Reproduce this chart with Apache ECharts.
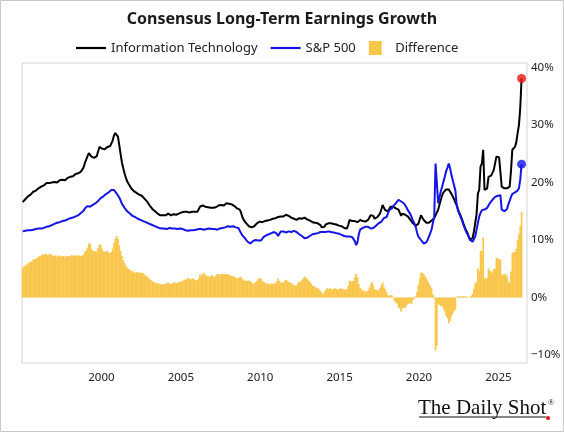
<!DOCTYPE html>
<html>
<head>
<meta charset="utf-8">
<script src="https://cdn.jsdelivr.net/npm/echarts@6/dist/echarts.min.js"></script>
<style>
  html, body { margin: 0; padding: 0; background: #fff; }
  #chart { width: 564px; height: 432px; }
</style>
</head>
<body>
<div id="chart"></div>
<script>
// monthly readings, Jan 1995 .. Jun 2026 (one row per year)
var startYear = 1995;

var itGrowth = [
  16.6,16.9,17.1,17.3,17.6,17.8,17.9,18.1,18.4,18.5,18.6,18.8,
  19.0,19.1,19.3,19.6,19.5,19.8,19.9,19.7,19.9,20.1,20.0,19.9,
  20.1,20.2,20.0,20.3,20.4,20.3,20.5,20.6,20.4,20.7,20.8,20.9,
  21.0,21.2,21.1,21.3,21.5,21.4,21.6,21.8,21.9,22.2,22.6,23.4,
  24.0,24.6,25.1,25.2,24.5,24.2,24.3,24.4,24.6,25.4,26.2,26.5,
  25.9,25.6,25.8,26.0,26.2,26.0,26.3,26.6,27.3,28.2,28.6,28.8,
  28.0,26.5,25.0,23.5,22.5,21.6,20.8,20.2,19.8,19.4,19.0,18.8,
  18.5,18.3,18.2,18.1,17.9,17.8,17.7,17.5,17.2,16.9,16.7,16.4,
  16.0,15.7,15.4,15.2,15.0,14.8,14.6,14.5,14.3,14.2,14.3,14.4,
  14.3,14.4,14.6,14.5,14.3,14.4,14.5,14.6,14.4,14.5,14.6,14.7,
  14.8,14.7,14.9,14.8,14.9,15.0,14.8,14.9,14.9,15.0,14.9,14.8,
  14.9,15.2,15.8,15.6,16.0,16.1,15.8,15.6,15.7,15.5,15.6,15.8,
  15.6,15.4,15.7,15.9,16.0,15.8,16.1,16.2,16.0,16.3,16.4,16.5,
  16.3,16.1,16.2,16.1,15.9,15.7,15.5,15.5,15.3,14.8,14.0,13.5,
  13.2,12.9,12.6,12.4,12.3,12.2,12.2,12.4,12.7,12.9,13.1,13.2,
  13.2,13.1,13.2,13.3,13.2,13.4,13.3,13.5,13.6,13.7,13.8,13.8,
  13.9,14.0,13.9,14.1,14.2,14.1,14.3,14.4,14.3,14.2,14.0,13.9,
  13.8,13.7,13.6,13.5,13.7,13.8,13.6,13.7,13.8,13.9,13.8,13.6,
  13.5,13.4,13.3,13.1,12.9,13.0,12.8,12.9,12.7,12.6,12.2,11.9,
  12.3,12.7,13.0,12.9,13.0,12.9,12.8,12.8,12.9,12.7,12.6,12.5,
  12.6,12.4,12.3,12.1,12.0,12.0,12.6,13.5,13.4,13.3,13.2,13.3,
  13.2,13.1,13.3,13.5,13.4,13.3,13.4,13.2,13.3,13.5,13.9,14.3,
  14.6,14.2,13.7,13.9,14.0,14.1,14.6,15.3,16.1,15.6,15.2,14.9,
  15.0,15.4,15.8,15.9,15.8,15.6,15.5,15.6,15.3,15.0,14.2,14.6,
  14.6,14.4,14.2,14.1,13.9,13.5,13.2,12.9,12.7,12.5,12.3,12.8,
  13.6,14.3,14.0,13.5,13.2,13.0,12.9,13.0,13.2,13.4,13.5,13.8,
  14.1,14.8,15.3,16.2,17.0,17.8,18.3,18.6,18.8,19.0,18.8,18.4,
  18.0,17.6,17.1,16.5,16.1,15.3,14.7,14.2,13.6,12.9,12.3,11.7,
  11.3,10.7,10.1,10.0,10.3,11.5,13.0,14.5,18.1,18.7,22.8,23.3,
  25.7,18.7,18.7,19.0,21.0,21.0,21.2,21.3,22.2,22.5,24.5,24.5,
  24.4,24.4,19.3,19.1,19.0,19.0,19.0,19.0,19.3,22.0,25.7,26.0,
  26.2,27.0,28.6,30.0,33.0,38.1
];

var spxGrowth = [
  11.5,11.5,11.6,11.6,11.7,11.7,11.7,11.8,11.8,11.8,11.9,11.9,
  12.0,11.9,12.0,12.1,12.1,12.2,12.3,12.4,12.4,12.5,12.6,12.7,
  12.8,12.9,13.0,13.0,13.1,13.2,13.3,13.4,13.4,13.5,13.6,13.7,
  13.8,13.8,13.9,14.0,14.1,14.2,14.3,14.5,14.7,14.9,15.1,15.5,
  15.8,15.9,15.7,15.8,16.0,16.1,16.2,16.4,16.6,16.8,17.0,17.3,
  17.4,17.6,17.8,18.0,18.1,18.3,18.5,18.7,18.8,18.7,18.4,18.1,
  17.8,17.4,16.9,16.3,16.0,15.6,15.3,15.0,14.8,14.6,14.4,14.2,
  14.1,14.0,13.8,13.7,13.6,13.5,13.4,13.3,13.2,13.1,13.0,12.9,
  12.8,12.7,12.6,12.5,12.4,12.3,12.2,12.1,12.0,12.0,12.0,12.0,
  12.0,11.9,12.0,12.1,12.0,12.0,11.9,12.0,12.0,11.9,11.9,12.0,
  12.0,11.9,11.8,11.7,11.7,11.6,11.6,11.7,11.6,11.7,11.8,11.8,
  11.9,11.9,11.8,11.9,11.9,11.8,11.9,11.9,11.9,12.0,11.9,11.9,
  11.9,11.9,11.9,11.8,11.9,12.0,12.0,12.1,12.0,12.2,12.4,12.4,
  12.4,12.3,12.4,12.4,12.3,12.2,12.2,12.1,11.8,11.2,10.8,10.5,
  10.3,10.0,9.7,9.5,9.4,9.6,9.8,10.0,10.0,10.0,9.9,9.8,
  9.9,10.2,10.5,10.7,10.8,10.9,11.0,11.1,11.2,11.3,11.4,11.3,
  11.1,10.7,11.0,11.5,11.6,11.5,11.4,11.3,11.4,11.5,11.3,11.4,
  11.5,11.6,11.5,11.4,11.2,11.0,10.9,10.7,10.5,10.3,10.3,10.4,
  10.5,10.7,10.9,11.0,11.0,11.1,11.2,11.2,11.3,11.4,11.4,11.4,
  11.3,11.4,11.4,11.5,11.4,11.4,11.4,11.3,11.3,11.2,11.2,11.1,
  11.0,10.9,10.8,10.7,10.6,10.6,10.6,10.6,10.6,10.5,10.3,9.8,
  9.1,9.6,11.0,11.8,12.0,12.1,12.2,12.3,12.2,12.3,12.2,12.0,
  11.9,12.1,12.3,12.5,12.7,12.9,13.0,13.2,13.5,13.8,13.8,14.0,
  14.6,15.2,15.4,15.5,15.9,16.2,16.4,16.7,17.0,16.9,16.7,16.4,
  16.4,16.2,15.7,15.2,14.9,14.5,14.3,13.3,12.9,12.3,11.3,10.6,
  10.3,10.0,9.7,9.4,9.4,9.6,10.0,10.6,11.2,11.8,13.0,14.0,
  23.3,23.2,16.4,17.5,18.5,19.3,20.2,21.0,22.0,22.6,23.3,22.5,
  21.3,20.4,19.5,18.6,16.0,15.1,14.5,14.0,13.4,12.7,12.1,11.5,
  11.2,10.6,10.0,9.7,9.7,10.0,10.6,11.8,13.0,14.1,14.7,15.2,
  15.2,15.3,15.5,15.6,16.0,16.4,16.7,17.0,17.3,17.5,17.6,17.7,
  17.8,17.8,15.3,15.1,15.0,14.9,15.4,16.2,16.8,17.5,18.0,18.1,
  18.3,18.5,18.6,19.0,20.5,23.2
];

var yearTicks = [2000, 2005, 2010, 2015, 2020, 2025];
var pctTicks = [-10, 0, 10, 20, 30, 40];

// build series data
var months = itGrowth.map(function (v, i) { return startYear + (i + 0.5) / 12; });
var itData = months.map(function (t, i) { return [t, itGrowth[i]]; });
var spxData = months.map(function (t, i) { return [t, spxGrowth[i]]; });
var diffData = months.map(function (t, i) {
  return [t, Math.round((itGrowth[i] - spxGrowth[i]) * 10) / 10];
});
var last = months.length - 1;

var myChart = echarts.init(document.getElementById('chart'));
var option = {
  animation: false,
  backgroundColor: '#fff',
  textStyle: { fontFamily: 'Noto Sans' },
  title: {
    text: 'Consensus Long-Term Earnings Growth',
    left: 'center',
    top: 6,
    textStyle: { fontFamily: 'Noto Sans', fontSize: 16, fontWeight: 'bold', color: '#1a1a1a' }
  },
  legend: {
    left: 71,
    top: 36,
    itemWidth: 30,
    itemHeight: 14,
    itemGap: 13,
    textStyle: { fontSize: 13, color: '#222' },
    data: [
      { name: 'Information Technology', icon: 'path://M0,0H30V2.2H0Z' },
      { name: 'S&P 500', icon: 'path://M0,0H30V2.2H0Z' },
      { name: 'Difference', icon: 'path://M0,0H12V13H0Z' }
    ]
  },
  grid: {
    left: 22,
    right: 37,
    top: 63,
    bottom: 69,
    show: true,
    borderColor: '#d6d6d6',
    borderWidth: 1
  },
  xAxis: {
    type: 'value',
    min: 1995,
    max: 2026.8,
    axisLine: { show: false },
    axisTick: { show: false },
    splitLine: { show: false },
    axisLabel: {
      customValues: yearTicks,
      formatter: function (v) { return String(v); },
      fontSize: 11.5,
      color: '#222',
      margin: 9
    }
  },
  yAxis: {
    type: 'value',
    position: 'right',
    min: -11.4,
    max: 40.8,
    axisLine: { show: false },
    axisTick: { show: false },
    splitLine: { show: false },
    axisLabel: {
      customValues: pctTicks,
      formatter: function (v) { return (v < 0 ? '\u2212' + (-v) : v) + '%'; },
      fontSize: 11.5,
      color: '#222',
      margin: 4
    }
  },
  series: [
    {
      name: 'Difference',
      type: 'bar',
      data: diffData,
      barWidth: 1.7,
      itemStyle: { color: '#f9c64c' },
      z: 1
    },
    {
      name: 'Information Technology',
      type: 'line',
      data: itData,
      showSymbol: false,
      color: '#000',
      lineStyle: { width: 2, color: '#000' },
      z: 3
    },
    {
      name: 'S&P 500',
      type: 'line',
      data: spxData,
      showSymbol: false,
      color: '#1414e6',
      lineStyle: { width: 2, color: '#1414e6' },
      z: 4
    },
    {
      type: 'scatter',
      data: [itData[last]],
      symbolSize: 9,
      itemStyle: { color: '#f01414' },
      z: 5
    },
    {
      type: 'scatter',
      data: [spxData[last]],
      symbolSize: 9,
      itemStyle: { color: '#1414e6' },
      z: 5
    }
  ],
  graphic: [
    {
      type: 'rect',
      shape: { x: 0.5, y: 0.5, width: 563, height: 431 },
      style: { fill: 'none', stroke: '#c8c8c8', lineWidth: 1 },
      silent: true
    },
    {
      type: 'text',
      left: 418,
      top: 398,
      style: { text: 'The Daily Shot', font: '21px "Liberation Serif"', fill: '#111' }
    },
    {
      type: 'text',
      left: 548,
      top: 399,
      style: { text: '\u00ae', font: '8px "Liberation Serif"', fill: '#111' }
    },
    {
      type: 'line',
      shape: { x1: 419, y1: 417, x2: 546, y2: 417 },
      style: { stroke: '#111', lineWidth: 1 }
    },
    {
      type: 'circle',
      shape: { cx: 548, cy: 418, r: 2 },
      style: { fill: '#e01010' }
    }
  ]
};
myChart.setOption(option);
</script>
</body>
</html>
